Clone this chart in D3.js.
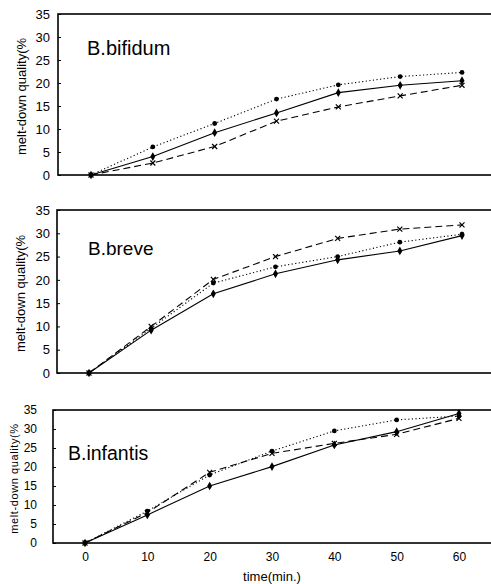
<!DOCTYPE html>
<html><head><meta charset="utf-8">
<script src="https://cdn.jsdelivr.net/npm/d3@7"></script>
<style>
html,body{margin:0;padding:0;background:#fff;}
svg{display:block;}
text{font-family:"Liberation Sans",Arial,sans-serif;fill:#000;}
</style></head>
<body>
<svg id="c" width="491" height="584"></svg>
<script>
const times = [0, 10, 20, 30, 40, 50, 60];
const yTicks = [0, 5, 10, 15, 20, 25, 30, 35];
const xTickLabels = ["0", "10", "20", "30", "40", "50", "60"];
const strains = ["B.bifidum", "B.breve", "B.infantis"];
const yLabel = "melt-down quality(%";
const xLabel = "time(min.)";

// series per strain: solid (diamond), dotted (circle), dashed (x)
const bifidumSolid  = [0, 4.0, 9.2, 13.5, 17.9, 19.5, 20.5];
const bifidumDotted = [0, 6.1, 11.2, 16.5, 19.6, 21.4, 22.3];
const bifidumDashed = [0, 2.6, 6.2, 11.7, 14.8, 17.2, 19.5];

const breveSolid  = [0, 9.2, 17.0, 21.3, 24.3, 26.2, 29.5];
const breveDotted = [0, 9.6, 19.3, 22.8, 25.0, 28.1, 29.8];
const breveDashed = [0, 10.0, 20.1, 25.0, 28.9, 30.9, 31.8];

const infantisSolid  = [0, 7.4, 15.0, 20.1, 25.8, 29.3, 34.1];
const infantisDotted = [0, 8.4, 17.9, 24.2, 29.5, 32.4, 33.4];
const infantisDashed = [0, 8.0, 18.6, 23.6, 26.2, 28.6, 32.8];

const panelData = [
  [bifidumSolid, bifidumDotted, bifidumDashed],
  [breveSolid, breveDotted, breveDashed],
  [infantisSolid, infantisDotted, infantisDashed]
];

const layout = [
  {left:58, top:14, bottom:175, x0:91, x60:462, tickRight:50, tickFs:13, ylx:23, ylFs:13, ylSpacing:0, titleX:87, titleY:55, titleFs:20},
  {left:57, top:210, bottom:373, x0:89, x60:462, tickRight:50, tickFs:13, ylx:22, ylFs:13, ylSpacing:0, titleX:88, titleY:255, titleFs:19},
  {left:53, top:410, bottom:543, x0:85, x60:459, tickRight:37, tickFs:12, ylx:15, ylFs:11, ylSpacing:0.6, titleX:68, titleY:460, titleFs:19.5}
];

const svg = d3.select("#c");
const right = 494;

const styles = [
  {dash:null, marker:"diamond"},
  {dash:"1.2,2.4", marker:"circle"},
  {dash:"7,4", marker:"x"}
];

layout.forEach((L, pi) => {
  const g = svg.append("g");
  const x = d3.scaleLinear().domain([0, 60]).range([L.x0, L.x60]);
  const y = d3.scaleLinear().domain([0, 35]).range([L.bottom, L.top]);

  // frame
  g.append("rect").attr("x", L.left).attr("y", L.top)
    .attr("width", right - L.left).attr("height", L.bottom - L.top)
    .attr("fill", "none").attr("stroke", "#000").attr("stroke-width", 1.6);

  // y axis ticks & labels
  const yAxis = d3.axisLeft(y).tickValues(yTicks).tickSize(-3).tickPadding(L.left - L.tickRight);
  const ya = g.append("g").attr("transform", `translate(${L.left},0)`).call(yAxis);
  ya.select(".domain").remove();
  ya.selectAll("line").attr("stroke", "#000");
  ya.selectAll("text").attr("font-size", L.tickFs).attr("font-family", "'Liberation Sans', Arial, sans-serif");

  // y label
  g.append("text")
    .attr("transform", `translate(${L.ylx},${(L.top + L.bottom) / 2 + 2}) rotate(-90)`)
    .attr("text-anchor", "middle").attr("dominant-baseline", "middle")
    .attr("font-size", L.ylFs).attr("letter-spacing", L.ylSpacing)
    .text(yLabel);

  // title
  g.append("text").attr("x", L.titleX).attr("y", L.titleY)
    .attr("font-size", L.titleFs).text(strains[pi]);

  // series
  panelData[pi].forEach((vals, si) => {
    const pts = times.map((t, i) => [x(t), y(vals[i])]);
    const line = d3.line().curve(d3.curveLinear);
    g.append("path").attr("d", line(pts)).attr("fill", "none")
      .attr("stroke", "#000").attr("stroke-width", 1.1)
      .attr("stroke-dasharray", styles[si].dash);
    const m = styles[si].marker;
    pts.forEach(p => {
      if (m === "diamond") {
        g.append("path").attr("d", d3.symbol().type(d3.symbolDiamond).size(22)())
          .attr("transform", `translate(${p[0]},${p[1]})`).attr("fill", "#000");
      } else if (m === "circle") {
        g.append("circle").attr("cx", p[0]).attr("cy", p[1]).attr("r", 2.4).attr("fill", "#000");
      } else {
        g.append("path").attr("d", d3.symbol().type(d3.symbolX).size(18)())
          .attr("transform", `translate(${p[0]},${p[1]})`)
          .attr("fill", "none").attr("stroke", "#000").attr("stroke-width", 1.2);
      }
    });
  });

  if (pi === 2) {
    const xAxis = d3.axisBottom(x).tickValues(times)
      .tickFormat((d, i) => xTickLabels[i]).tickSize(0).tickPadding(9);
    const xa = g.append("g").attr("transform", `translate(0,${L.bottom})`).call(xAxis);
    xa.select(".domain").remove();
    xa.selectAll("text").attr("font-size", 12);
    g.append("text").attr("x", 272).attr("y", 581).attr("text-anchor", "middle")
      .attr("font-size", 13).text(xLabel);
  }
});
</script>
</body></html>
